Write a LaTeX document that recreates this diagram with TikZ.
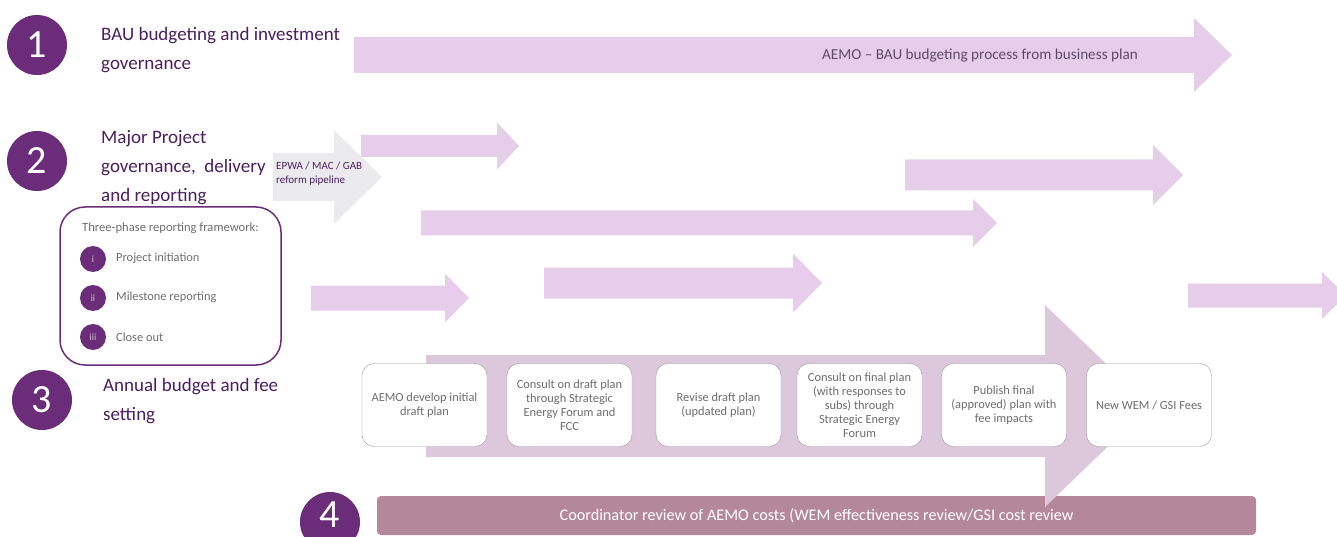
\documentclass[tikz,border=0pt]{standalone}
\usepackage{fontspec}
\setmainfont{Carlito}
\usepackage{tikz}
\usetikzlibrary{positioning}

\definecolor{circpurple}{HTML}{6B2C79}
\definecolor{titlepurple}{HTML}{4B1F5E}
\definecolor{lilac}{HTML}{E6CDE9}
\definecolor{mauve}{HTML}{DDC8DB}
\definecolor{barmauve}{HTML}{B5879A}
\definecolor{pipegray}{HTML}{EBEBEE}
\definecolor{boxgray}{HTML}{6E6E6E}
\definecolor{notegray}{HTML}{5E4A6A}

% left end, head base, tip, centre line, half shaft, half head
\newcommand{\blockarrow}[7][lilac]{%
  \fill[#1] (#2,#5-#6) -- (#3,#5-#6) -- (#3,#5-#7) -- (#4,#5)
    -- (#3,#5+#7) -- (#3,#5+#6) -- (#2,#5+#6) -- cycle;}

\tikzset{
  num/.style={circle, fill=circpurple, text=white, minimum size=60pt,
    inner sep=0pt, font=\fontsize{40}{40}\selectfont},
  numdigit/.style={inner sep=0pt, text=white, font=\fontsize{40}{40}\selectfont},
  heading/.style={anchor=base west, align=left, text=titlepurple,
    inner sep=0pt, font=\fontsize{19}{29}\selectfont},
  stage/.style={draw=black!40, fill=white, rounded corners=12pt,
    minimum width=125pt, minimum height=83pt, align=center, text=boxgray,
    inner sep=2pt, font=\fontsize{12.4}{14}\selectfont},
  phase/.style={circle, fill=circpurple, minimum size=26pt, inner sep=0pt,
    text=white!75!circpurple, font=\fontsize{9.5}{9.5}\selectfont},
  phasetext/.style={anchor=west, inner sep=0pt, text=boxgray,
    font=\fontsize{12.4}{13}\selectfont}
}

\begin{document}
\begin{tikzpicture}[x=1pt, y=-1pt]
        \clip (0,0) rectangle (1337,537);

        \node[num] (n1) at (37, 45) {1};
        \node[num] (n2) at (37, 161) {2};
        \node[num] (n3) at (42, 400) {3};
        \node[num] (n4) at (330, 522) {};
        \node[numdigit] (d4) at (330, 515) {4};

        \node[heading] (h1) at (101, 69.5) {BAU budgeting and investment\\governance};
        \node[heading] (h2) at (101, 202) {Major Project\\governance,\ \ delivery\\and reporting};
        \node[heading] (h3) at (103, 420) {Annual budget and fee\\setting};

        \blockarrow{354}{1194}{1232}{55}{18}{37}
        \node[text=notegray, font=\fontsize{15.2}{16}\selectfont] (bau) at (980, 56)
          {AEMO -- BAU budgeting process from business plan};

        \blockarrow[pipegray]{273}{334}{382}{177}{24}{47}
        \node[anchor=west, align=left, inner sep=0pt, text=titlepurple,
          font=\fontsize{11}{14}\selectfont] (pipe) at (276, 174)
          {EPWA / MAC / GAB\\reform pipeline};

        \blockarrow{361}{497}{519}{146}{11}{23.5}
        \blockarrow{905}{1153}{1183}{175}{15.5}{30}
        \blockarrow{421}{973}{997}{223}{12.5}{24}
        \blockarrow{544}{793}{822}{283}{15.5}{29.5}
        \blockarrow{311}{445}{469}{298}{12.5}{24.5}
        \blockarrow{1188}{1322}{1346}{295.5}{12}{23.5}

        \node[draw=circpurple, line width=1.5pt, rounded corners=25pt,
          minimum width=221pt, minimum height=158pt] (frame) at (170.5, 286) {};
        \node[anchor=west, inner sep=0pt, text=boxgray,
          font=\fontsize{12.6}{13}\selectfont] (framehead) at (82, 228)
          {Three-phase reporting framework:};
        \node[phase] (p1) at (93, 259) {i};
        \node[phase] (p2) at (93, 298) {ii};
        \node[phase] (p3) at (93, 337) {iii};
        \node[phasetext] (t1) at (116, 258) {Project initiation};
        \node[phasetext] (t2) at (116, 297) {Milestone reporting};
        \node[phasetext] (t3) at (116, 337) {Close out};

        \node[fill=barmauve, rounded corners=4pt, minimum width=879pt,
          minimum height=39pt, text=white, font=\fontsize{16.2}{17}\selectfont]
          (review) at (816.5, 515.5)
          {Coordinator review of AEMO costs (WEM effectiveness review/GSI cost review};

        \blockarrow[mauve]{426}{1045}{1150}{406}{51}{101}

        \node[stage] (s1) at (424.5, 405) {AEMO develop initial\\draft plan};
        \node[stage] (s2) at (569.5, 405) {Consult on draft plan\\through Strategic\\Energy Forum and\\FCC};
        \node[stage] (s3) at (718.5, 405) {Revise draft plan\\(updated plan)};
        \node[stage] (s4) at (859.5, 405) {Consult on final plan\\(with responses to\\subs) through\\Strategic Energy\\Forum};
        \node[stage] (s5) at (1004, 405) {Publish final\\(approved) plan with\\fee impacts};
        \node[stage] (s6) at (1149, 405) {New WEM / GSI Fees};
      \end{tikzpicture}
\end{document}
